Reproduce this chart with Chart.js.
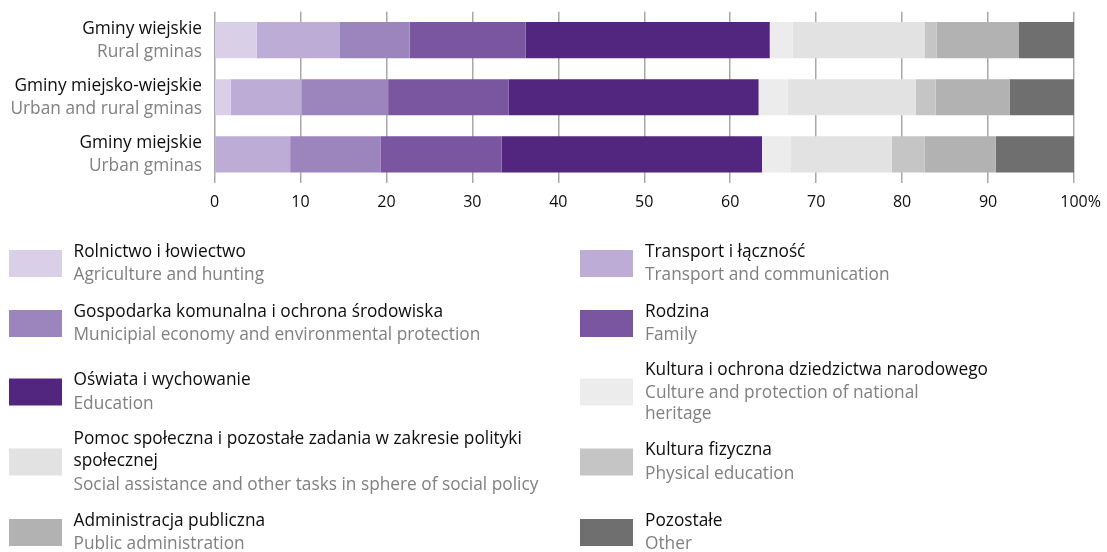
<!DOCTYPE html>
<html>
<head>
<meta charset="utf-8">
<script src="https://cdn.jsdelivr.net/npm/chart.js@4/dist/chart.umd.min.js"></script>
<style>
  html, body { margin: 0; padding: 0; background: #ffffff; }
  #wrap { width: 1107px; height: 552px; }
</style>
</head>
<body>
<div id="wrap"><canvas id="c" width="1107" height="552"></canvas></div>
<script>
// Gmina types (Polish name + English subtitle)
const categoriesPl = ['Gminy wiejskie', 'Gminy miejsko-wiejskie', 'Gminy miejskie'];
const categoriesEn = ['Rural gminas', 'Urban and rural gminas', 'Urban gminas'];

// Share of expenditure by section, % (rural, urban-rural, urban)
const agriculture = [4.9, 1.9, 0.0];
const transport   = [9.7, 8.2, 8.8];
const municipal   = [8.1, 10.1, 10.5];
const family      = [13.5, 14.0, 14.1];
const education   = [28.4, 29.1, 30.3];
const culture     = [2.7, 3.4, 3.3];
const social      = [15.3, 14.9, 11.8];
const physical    = [1.4, 2.3, 3.8];
const admin       = [9.6, 8.6, 8.3];
const other       = [6.4, 7.5, 9.1];

// Axis ticks
const xTicks = [0, 10, 20, 30, 40, 50, 60, 70, 80, 90, 100];

// Section names, each as a list of lines
const seriesPl = [
  ['Rolnictwo i łowiectwo'],
  ['Transport i łączność'],
  ['Gospodarka komunalna i ochrona środowiska'],
  ['Rodzina'],
  ['Oświata i wychowanie'],
  ['Kultura i ochrona dziedzictwa narodowego'],
  ['Pomoc społeczna i pozostałe zadania w zakresie polityki', 'społecznej'],
  ['Kultura fizyczna'],
  ['Administracja publiczna'],
  ['Pozostałe']
];
const seriesEn = [
  ['Agriculture and hunting'],
  ['Transport and communication'],
  ['Municipial economy and environmental protection'],
  ['Family'],
  ['Education'],
  ['Culture and protection of national', 'heritage'],
  ['Social assistance and other tasks in sphere of social policy'],
  ['Physical education'],
  ['Public administration'],
  ['Other']
];
const seriesValues = [agriculture, transport, municipal, family, education,
                      culture, social, physical, admin, other];
const seriesColors = ['#d9d0e8', '#bdadd6', '#9c84bc', '#7a56a0', '#52267f',
                      '#ececec', '#e2e2e2', '#c5c5c5', '#b2b2b2', '#6f6f6f'];

const FONT = '"Open Sans", Lato, sans-serif';
const TEXT_SIZE = 17.3;
const TICK_SIZE = 16;
const TICK_PAD = 10;
const TITLE_COLOR = '#0d0d0d';
const SUB_COLOR = '#808080';

// Two-tone category labels on the left of the bars
const categoryLabels = {
  id: 'categoryLabels',
  afterDraw(chart) {
    const { ctx, scales } = chart;
    ctx.save();
    ctx.textAlign = 'right';
    ctx.textBaseline = 'middle';
    ctx.font = TEXT_SIZE + 'px ' + FONT;
    categoriesPl.forEach((name, i) => {
      const y = scales.y.getPixelForValue(i);
      ctx.fillStyle = TITLE_COLOR;
      ctx.fillText(name, 202, y - 11.5);
      ctx.fillStyle = SUB_COLOR;
      ctx.fillText(categoriesEn[i], 202, y + 11.5);
    });
    ctx.restore();
  }
};

// Percent sign after the last tick value
const percentSuffix = {
  id: 'percentSuffix',
  afterDraw(chart) {
    const { ctx, scales } = chart;
    const last = xTicks[xTicks.length - 1];
    ctx.save();
    ctx.font = TICK_SIZE + 'px ' + FONT;
    const w = ctx.measureText(String(last)).width;
    const x = scales.x.getPixelForValue(last) + w / 2;
    const y = scales.x.top + TICK_PAD + TICK_SIZE * 1.2 / 2;
    ctx.fillStyle = TITLE_COLOR;
    ctx.textAlign = 'left';
    ctx.textBaseline = 'middle';
    ctx.fillText('%', x, y);
    ctx.restore();
  }
};

// Two-column legend with bilingual labels
const bilingualLegend = {
  id: 'bilingualLegend',
  afterDraw(chart) {
    const { ctx } = chart;
    const colX = [9, 580];
    const textX = [73.5, 645];
    const rowCenters = [263.5, 323.5, 392, 462, 532.5];
    const swW = 53, swH = 27;
    ctx.save();
    ctx.textAlign = 'left';
    ctx.textBaseline = 'middle';
    ctx.font = TEXT_SIZE + 'px ' + FONT;
    seriesPl.forEach((title, i) => {
      const col = i % 2, row = Math.floor(i / 2);
      const cy = rowCenters[row];
      ctx.fillStyle = seriesColors[i];
      ctx.fillRect(colX[col], cy - swH / 2, swW, swH);
      const sub = seriesEn[i];
      const lines = [];
      let y = 0;
      title.forEach((t, k) => { if (k > 0) y += 22; lines.push({ t, y, c: TITLE_COLOR }); });
      sub.forEach((t, k) => { y += (k === 0 ? 23.5 : 21); lines.push({ t, y, c: SUB_COLOR }); });
      const off = cy - y / 2;
      lines.forEach(l => {
        ctx.fillStyle = l.c;
        ctx.fillText(l.t, textX[col], off + l.y);
      });
    });
    ctx.restore();
  }
};

const datasets = seriesValues.map((vals, i) => ({
  label: seriesPl[i].join(' '),
  data: vals,
  backgroundColor: seriesColors[i],
  borderWidth: 0,
  categoryPercentage: 1,
  barPercentage: 0.635
}));

new Chart(document.getElementById('c'), {
  type: 'bar',
  data: { labels: categoriesPl, datasets },
  options: {
    indexAxis: 'y',
    responsive: false,
    animation: false,
    layout: { padding: { left: 214.5, right: 33, top: 11.7, bottom: 340 } },
    plugins: {
      legend: { display: false },
      tooltip: { enabled: false }
    },
    scales: {
      x: {
        stacked: true,
        min: 0,
        max: 100,
        afterBuildTicks(axis) { axis.ticks = xTicks.map(v => ({ value: v })); },
        afterFit(axis) { axis.height = TICK_PAD + TICK_SIZE * 1.2; },
        grid: { color: '#a8a8a8', lineWidth: 1.5, drawTicks: false },
        border: { display: false },
        ticks: {
          padding: TICK_PAD,
          maxRotation: 0,
          color: TITLE_COLOR,
          font: { family: FONT, size: TICK_SIZE },
          callback: v => String(v)
        }
      },
      y: {
        stacked: true,
        display: false
      }
    }
  },
  plugins: [categoryLabels, percentSuffix, bilingualLegend]
});
</script>
</body>
</html>
